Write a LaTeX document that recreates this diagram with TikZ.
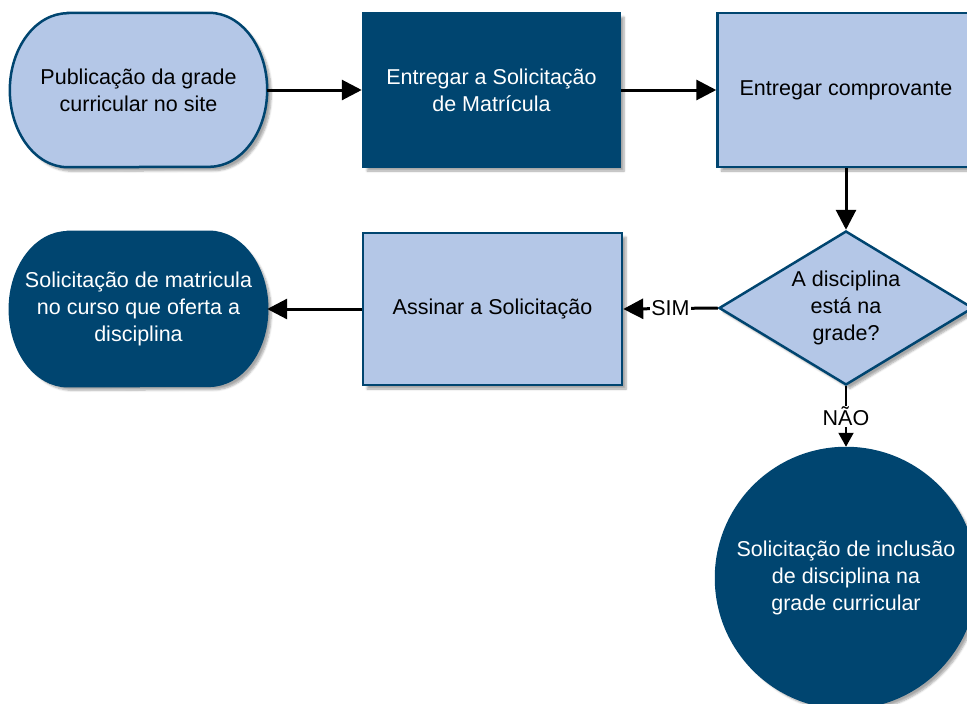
\documentclass[tikz,border=0pt]{standalone}
\usepackage{fontspec}
\setmainfont{Liberation Sans}
\usetikzlibrary{shapes.geometric,arrows.meta,shadows.blur,backgrounds}
\definecolor{navy}{RGB}{0,69,112}
\definecolor{pale}{RGB}{180,199,231}
% capsule outline drawn around a named text node: #1 node, #2 style
\newcommand{\capsuleround}[2]{%
  \path[#2] ([xshift=58pt]#1.north west) -- ([xshift=-58pt]#1.north east)
    arc[start angle=90,end angle=-90,x radius=58pt,y radius=77pt]
    -- ([xshift=58pt]#1.south west)
    arc[start angle=-90,end angle=-270,x radius=58pt,y radius=77pt] -- cycle;}
\begin{document}
\begin{tikzpicture}[x=1pt,y=-1pt,
  every node/.style={font=\fontsize{21.5}{27}\selectfont, align=center, inner sep=0pt},
  softshadow/.style={blur shadow={shadow xshift=4pt,shadow yshift=-4pt,shadow blur steps=6,shadow opacity=35}},
  lightshape/.style={fill=pale,draw=navy,line width=2.5pt,softshadow},
  darkshape/.style={fill=navy,draw=navy,line width=2.5pt,softshadow},
  boxframe/.style={rectangle,minimum width=257pt,minimum height=154pt},
  flow/.style={line width=3pt,-{Triangle[length=20pt,width=20pt]}},
  tag/.style={fill=white,inner sep=1pt}
]
\useasboundingbox (0,0) rectangle (967,704);
\clip (0,0) rectangle (967,704);

% top row
\node[boxframe] (pub) at (138.5,90) {Publicação da grade\\curricular no site};
\node[boxframe,darkshape,text=white] (ent) at (491.5,90) {Entregar a Solicitação\\de Matrícula};
\node[boxframe,lightshape,text=black] (comp) at (846,90) {Entregar comprovante};

% middle row
\node[diamond,aspect=1.65,minimum width=254pt,minimum height=154pt,lightshape] (dec) at (846,308) {A disciplina\\está na\\grade?};
\node[boxframe,lightshape,minimum width=259pt,minimum height=152pt] (ass) at (492.5,309) {Assinar a Solicitação};
\node[boxframe,text=white] (mat) at (138.5,309) {Solicitação de matricula\\no curso que oferta a\\disciplina};

% bottom
\node[circle,minimum size=260pt,darkshape,text=white] (inc) at (846,578) {Solicitação de inclusão\\de disciplina na\\grade curricular};

\begin{scope}[on background layer]
  \capsuleround{pub}{lightshape}
  \capsuleround{mat}{darkshape}
\end{scope}

% connectors
\draw[flow] (pub.east) -- (ent.west);
\draw[flow] (ent.east) -- (comp.west);
\draw[flow] (comp.south) -- (dec.north);
\draw[flow] (dec.west) -- node[tag] {SIM} (ass.east);
\draw[flow] (ass.west) -- (mat.east);
\draw[line width=2pt,-{Triangle[length=14pt,width=15pt]}] (dec.south) -- node[tag] {NÃO} (inc.north);
\end{tikzpicture}
\end{document}
